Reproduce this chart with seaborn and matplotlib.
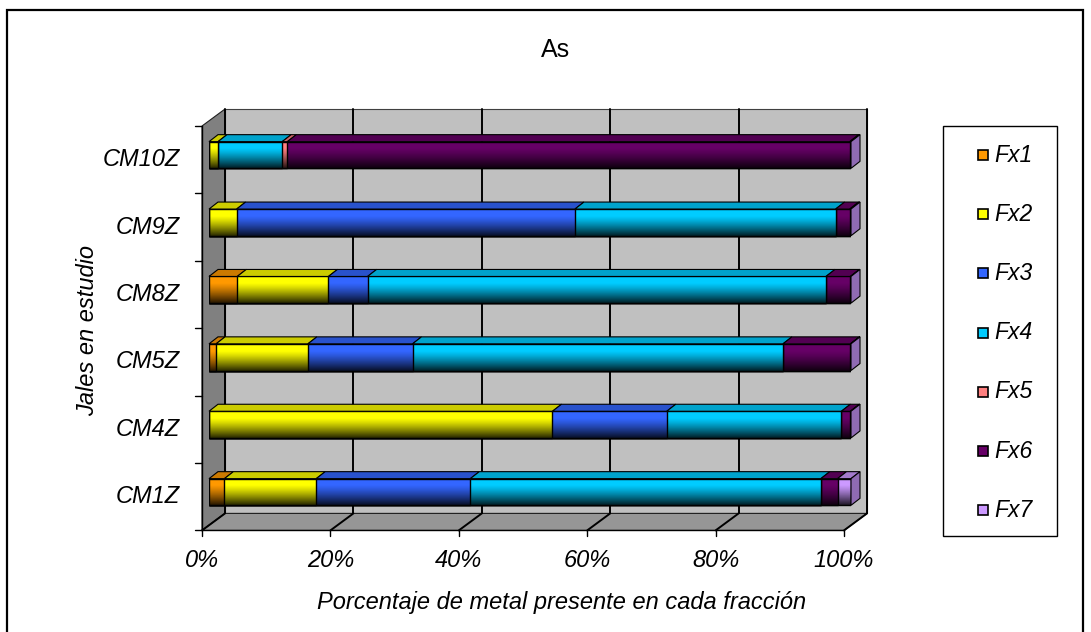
import numpy as np
import matplotlib
matplotlib.use("Agg")
import matplotlib.pyplot as plt
import matplotlib.colors as mcolors
import seaborn as sns
from matplotlib.patches import Polygon, Rectangle
from matplotlib.lines import Line2D

# ---------------------------------------------------------------- data
samples = ["CM10Z", "CM9Z", "CM8Z", "CM5Z", "CM4Z", "CM1Z"]
fractions = ["Fx1", "Fx2", "Fx3", "Fx4", "Fx5", "Fx6", "Fx7"]

# percentage of As found in each fraction (one value per sample, same order as `samples`)
fx1 = [0.0, 0.0, 4.4, 1.1, 0.0, 2.4]
fx2 = [1.4, 4.3, 14.2, 14.3, 53.5, 14.3]
fx3 = [0.0, 52.7, 6.1, 16.3, 17.8, 24.0]
fx4 = [10.0, 40.6, 71.4, 57.7, 27.2, 54.6]
fx5 = [0.8, 0.0, 0.0, 0.0, 0.0, 0.0]
fx6 = [87.6, 2.2, 3.8, 10.5, 1.4, 2.6]
fx7 = [0.2, 0.2, 0.1, 0.1, 0.1, 2.1]

xticks = [0, 20, 40, 60, 80, 100]
xtick_labels = ["0%", "20%", "40%", "60%", "80%", "100%"]

colors = ["#FF9900", "#FFFF00", "#3366FF", "#00CCFF", "#FF8080", "#660066", "#CC99FF"]

# ---------------------------------------------------------------- figure
sns.set_style("white")
plt.rcParams["font.family"] = ["Liberation Sans", "DejaVu Sans"]
plt.rcParams["text.color"] = "black"

W, H = 1091, 632
fig = plt.figure(figsize=(W / 100, H / 100), dpi=100)

# axes: x spans the front plane of the bars, one category per 67.4 px
PXX = 642 / 100.0       # pixels per percent
PXY = 67.4              # pixels per category
ax = fig.add_axes([209 / W, 1 - 540 / H, 642 / W, 440 / H])

vals = np.array([fx1, fx2, fx3, fx4, fx5, fx6, fx7])
cum = np.cumsum(vals, axis=0)
BAR_H = 0.396

# stacked bars: cumulative totals drawn from the outermost fraction inwards
for k in reversed(range(len(fractions))):
    sns.barplot(x=cum[k], y=samples, order=samples, orient="h", color=colors[k],
                saturation=1, width=BAR_H, edgecolor="black", linewidth=1.0,
                ax=ax, zorder=1)

ax.set_xlim(0, 100)
ax.set_ylim((540 - 155) / PXY, (100 - 155) / PXY)
ax.axis("off")

# ---------------------------------------------------------------- 3-D box
FRONT_SHIFT = 0.07                # front edge of the box is slightly lower than the bars
FX0 = -7 / PXX                    # front edge x offset
FY0 = len(samples) - 0.5 + FRONT_SHIFT
TOP_FRONT = -0.5 + FRONT_SHIFT
BDX, BDY = 23 / PXX, 17 / PXY     # depth of the box
TOP_BACK = TOP_FRONT - BDY

back = Rectangle((FX0 + BDX, TOP_BACK), 100, FY0 - BDY - TOP_BACK,
                 facecolor="#C0C0C0", edgecolor="#404040", lw=0.8, zorder=0.1, clip_on=False)
left = Polygon([(FX0, FY0), (FX0, TOP_FRONT), (FX0 + BDX, TOP_BACK), (FX0 + BDX, FY0 - BDY)],
               closed=True, facecolor="#808080", edgecolor="#202020", lw=0.8, zorder=0.2, clip_on=False)
floor = Polygon([(FX0, FY0), (100 + FX0, FY0), (100 + FX0 + BDX, FY0 - BDY), (FX0 + BDX, FY0 - BDY)],
                closed=True, facecolor="#969696", edgecolor="#202020", lw=0.8, zorder=0.2, clip_on=False)
for p in (back, left, floor):
    ax.add_patch(p)

for v, lab in zip(xticks, xtick_labels):
    ax.plot([v + FX0 + BDX] * 2, [TOP_BACK, FY0 - BDY], color="black", lw=1.4, zorder=0.3, clip_on=False)
    ax.plot([v + FX0, v + FX0 + BDX], [FY0, FY0 - BDY], color="black", lw=1.4, zorder=0.3, clip_on=False)
    ax.plot([v + FX0] * 2, [FY0, FY0 + 6 / PXY], color="black", lw=1.0, zorder=0.3, clip_on=False)
    ax.text(v + FX0, FY0 + 30 / PXY, lab, ha="center", va="center",
            fontsize=17, style="italic", color="black")

# axis lines on the front edges
ax.plot([FX0, 100 + FX0], [FY0, FY0], color="black", lw=1.0, zorder=0.4, clip_on=False)
ax.plot([FX0, FX0], [TOP_FRONT, FY0], color="black", lw=1.0, zorder=0.4, clip_on=False)
for b in range(len(samples) + 1):
    yb = b - 0.5 + FRONT_SHIFT
    ax.plot([FX0 - 7 / PXX, FX0], [yb, yb], color="black", lw=1.0, zorder=0.4, clip_on=False)
for i, name in enumerate(samples):
    ax.text(FX0 - 22 / PXX, i + FRONT_SHIFT, name, ha="right", va="center",
            fontsize=17, style="italic", color="black")

# ---------------------------------------------------------------- bar shading
def darker(c, f):
    r, g, b = mcolors.to_rgb(c)
    return (r * f, g * f, b * f)

t = np.linspace(0, 1, 80)
shade = np.zeros((80, 1, 4))
shade[:, 0, 3] = np.clip((t - 0.25) / 0.75, 0, 1) ** 1.2 * 0.85

DX, DY = 9 / PXX, 7 / PXY   # bar depth
for i in range(len(samples)):
    top, bot = i - BAR_H / 2, i + BAR_H / 2
    total = cum[-1, i]
    # darkening towards the bottom of the front faces
    ax.imshow(shade, extent=(0, total, bot, top), aspect="auto", zorder=1.5,
              interpolation="bilinear")
    prev = 0.0
    last = 0
    for k in range(len(fractions)):
        seg = vals[k, i]
        if seg <= 0:
            continue
        l, r = prev, prev + seg
        ax.add_patch(Polygon([(l, top), (r, top), (r + DX, top - DY), (l + DX, top - DY)],
                             closed=True, facecolor=darker(colors[k], 0.8), edgecolor="black",
                             lw=0.8, zorder=2, clip_on=False))
        prev = r
        last = k
    side = Polygon([(total, top), (total + DX, top - DY), (total + DX, bot - DY), (total, bot)],
                   closed=True, facecolor=darker(colors[last], 0.7), edgecolor="black",
                   lw=0.8, zorder=2, clip_on=False)
    ax.add_patch(side)
    im = ax.imshow(shade, extent=(total, total + DX, bot, top - DY), aspect="auto", zorder=2.1,
                   interpolation="bilinear", clip_on=True)
    im.set_clip_path(side)

ax.set_xlim(0, 100)
ax.set_ylim((540 - 155) / PXY, (100 - 155) / PXY)

# ---------------------------------------------------------------- texts
fig.text(556 / W, 1 - 50 / H, "As", ha="center", va="center", fontsize=18, color="black")
fig.text(562 / W, 1 - 603 / H, "Porcentaje de metal presente en cada fracción",
         ha="center", va="center", fontsize=17, style="italic", color="black")
fig.text(88 / W, 1 - 331 / H, "Jales en estudio", ha="center", va="center",
         rotation=90, fontsize=17, style="italic", color="black")

# ---------------------------------------------------------------- legend
fig.add_artist(Rectangle((943 / W, 1 - 536 / H), (1057 - 943) / W, (536 - 126) / H,
                         transform=fig.transFigure, fill=False, edgecolor="black", lw=1.0))
for k, name in enumerate(fractions):
    yk = 1 - (155 + k * 59.2) / H
    fig.add_artist(Line2D([983 / W], [yk], transform=fig.transFigure, marker="s",
                          markersize=7.5, markerfacecolor=colors[k], markeredgecolor="black",
                          markeredgewidth=1.2, linestyle="none"))
    fig.text(994 / W, yk, name, ha="left", va="center", fontsize=16.5, style="italic",
             color="black")

# outer frame
fig.add_artist(Rectangle((7 / W, -0.05), (1083 - 7) / W, 1.05 - 10 / H,
                         transform=fig.transFigure, fill=False, edgecolor="black", lw=1.6))

fig.savefig("out.png", dpi=100)
